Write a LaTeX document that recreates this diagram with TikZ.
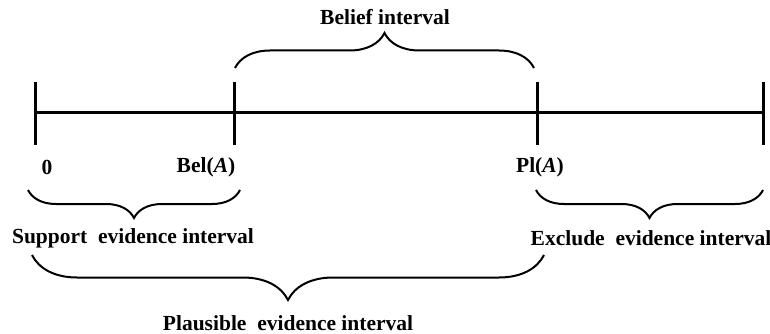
\documentclass[tikz,border=0pt]{standalone}
\usepackage{fontspec}
\setmainfont{Liberation Serif}
\usetikzlibrary{decorations.pathreplacing}
\begin{document}
\begin{tikzpicture}[x=1pt,y=-1pt,
  axis/.style={line width=3pt},
  tickmark/.style={line width=3pt},
  bracel/.style={line width=2pt,decorate,decoration={brace,amplitude=#1}},
  lbl/.style={font=\fontsize{21.5}{25}\selectfont\bfseries,inner sep=0pt,anchor=center}]
\useasboundingbox (0,0) rectangle (770,334);
% axis points
\coordinate (t0) at (35,113);
\coordinate (t1) at (234,113);
\coordinate (t2) at (537,113);
\coordinate (t3) at (763,113);
\foreach \n/\x in {0/35,1/234,2/537,3/763}{
  \coordinate (t\n a) at (\x,82);
  \coordinate (t\n b) at (\x,145);
}
\draw[axis] (t0) -- (t3);
\foreach \n in {0,1,2,3}{\draw[tickmark] (t\n a) -- (t\n b);}
% labels on axis
\node[lbl] (zero) at (47,167) {0};
\node[lbl] (bel) at (206,167) {Bel(\textit{A})};
\node[lbl] (pl) at (540,167) {Pl(\textit{A})};
% belief brace
\coordinate (ba) at (235,68);
\coordinate (bb) at (534,68);
\draw[bracel=35pt] (ba) -- (bb);
\node[lbl] (belief) at (385,17) {Belief interval};
% support brace
\coordinate (sa) at (28,190);
\coordinate (sb) at (240,190);
\draw[bracel=28pt] (sb) -- (sa);
\node[lbl] (support) at (133,238) {Support~ evidence interval};
% exclude brace
\coordinate (ea) at (536,190);
\coordinate (eb) at (763,190);
\draw[bracel=28pt] (eb) -- (ea);
\node[lbl] (exclude) at (651,238) {Exclude~ evidence interval};
% plausible brace
\coordinate (pa) at (32,255);
\coordinate (pb) at (544,255);
\draw[bracel=45pt] (pb) -- (pa);
\node[lbl] (plaus) at (288,323) {Plausible~ evidence interval};
\end{tikzpicture}
\end{document}
